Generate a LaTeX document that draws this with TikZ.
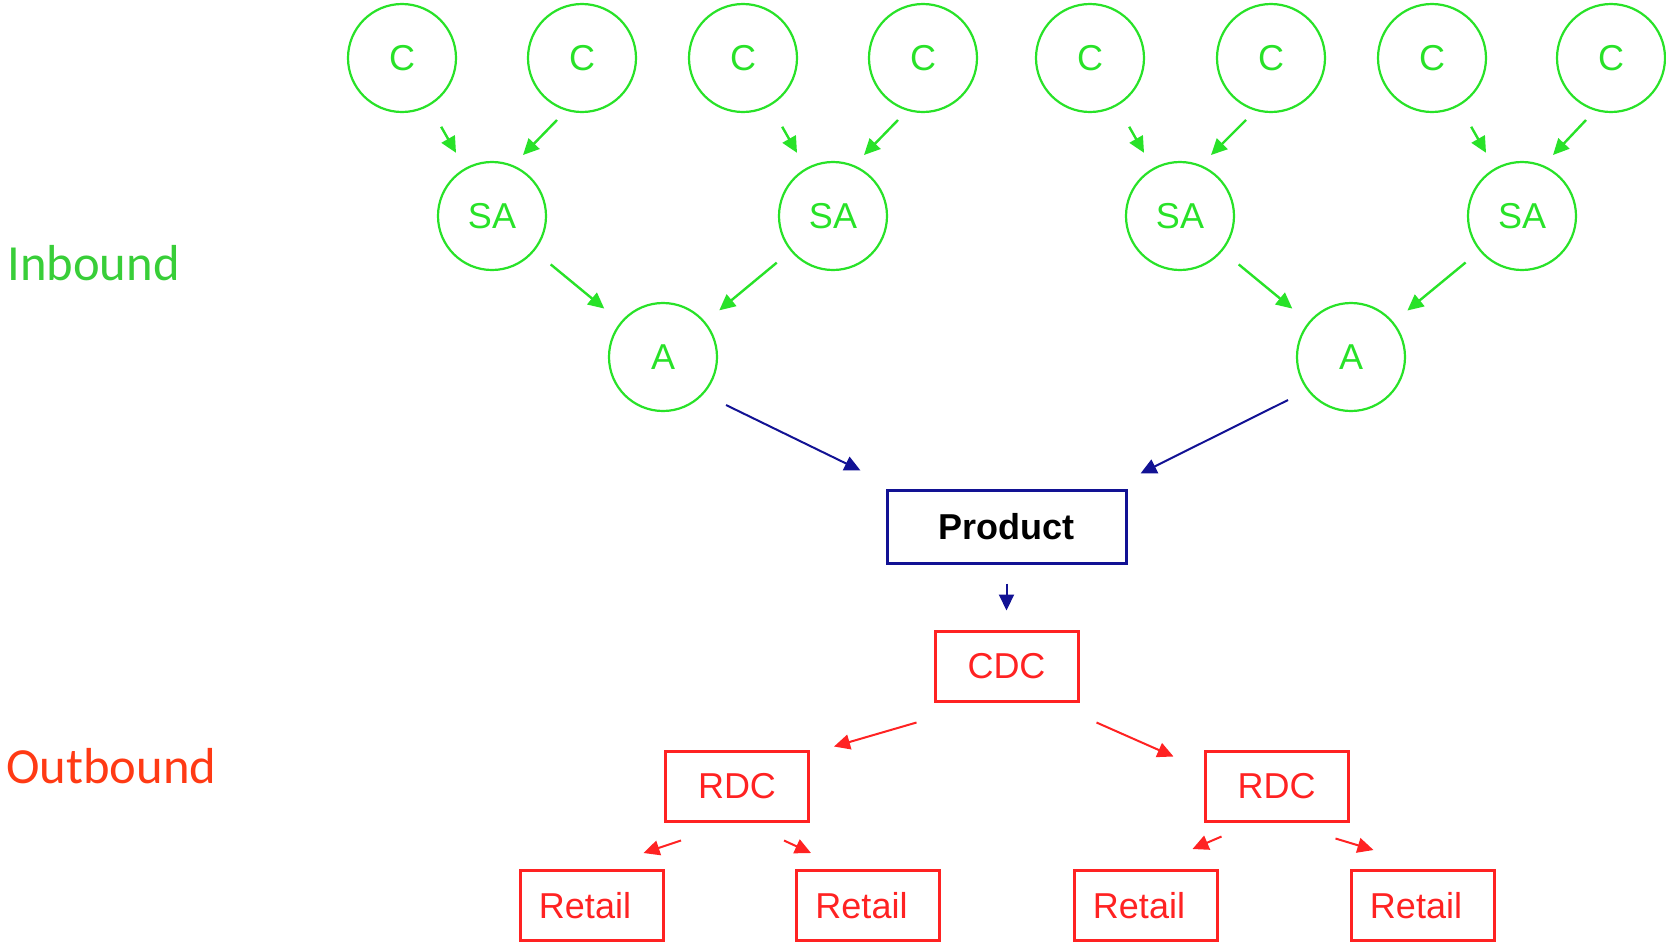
\documentclass[tikz,border=0pt]{standalone}
\usepackage{fontspec}
\setmainfont{Liberation Sans}
\newfontfamily\sidefont{Carlito}
\usepackage{tikz}
\usetikzlibrary{arrows.meta,positioning}
\definecolor{inbgreen}{RGB}{40,226,40}
\definecolor{inbtext}{RGB}{56,206,56}
\definecolor{outred}{RGB}{255,34,34}
\definecolor{outtext}{RGB}{255,58,20}
\definecolor{prodblue}{RGB}{18,18,148}
\tikzset{FLOW style/.style={>={Triangle[length=8pt,width=7.5pt]},every node/.append style={font=\fontsize{18}{21}\selectfont}}}
\newcommand{\shop}{\hspace*{-6.5pt}Retail}

\begin{document}
\begin{tikzpicture}[x=0.5pt,y=-0.5pt,FLOW style]
	\tikzstyle{comp}=[circle,draw=inbgreen,line width=1.1pt,text=inbgreen,minimum size=54pt,inner sep=0pt]
	\tikzstyle{dc}=[rectangle,draw=outred,line width=1.5pt,text=outred,minimum width=71.5pt,minimum height=35pt,inner sep=0pt]
	\tikzstyle{side}=[anchor=base west,inner sep=0pt,font=\sidefont\fontsize{25.3}{29}\selectfont]
	\tikzstyle{lfeed}=[shorten <=12pt,shorten >=8.8pt]
	\tikzstyle{lsub}=[shorten <=10.5pt,shorten >=10.5pt]
	\tikzstyle{rsub}=[shorten <=9pt,shorten >=9pt]
	
	\useasboundingbox (0,0) rectangle (1666,944);
	
	% side labels
	\node[side,text=inbtext] (inb) at (7,280) {Inbound};
	\node[side,text=outtext] (outb) at (6,783) {Outbound};
	
	% components
	\node[comp] (c1) at (402,58) {C};
	\node[comp] (c2) at (582,58) {C};
	\node[comp] (c3) at (743,58) {C};
	\node[comp] (c4) at (923,58) {C};
	\node[comp] (c5) at (1090,58) {C};
	\node[comp] (c6) at (1271,58) {C};
	\node[comp] (c7) at (1432,58) {C};
	\node[comp] (c8) at (1611,58) {C};
	
	% sub-assemblies and assemblies
	\node[comp] (sa1) at (492,216) {SA};
	\node[comp] (sa2) at (833,216) {SA};
	\node[comp] (sa3) at (1180,216) {SA};
	\node[comp] (sa4) at (1522,216) {SA};
	\node[comp] (a1) at (663,357) {A};
	\node[comp] (a2) at (1351,357) {A};
	
	\node[draw=prodblue,line width=1.5pt,minimum width=119.5pt,minimum height=36.5pt,inner sep=0pt,font=\fontsize{18}{21}\selectfont\bfseries] (prod) at (1006.5,526.5) {Product};
	
	% distribution
	\node[dc] (cdc) at (1006.5,666) {CDC};
	\node[dc] (rdc1) at (737,786) {RDC};
	\node[dc] (rdc2) at (1276.5,786) {RDC};
	\node[dc] (ret1) at (591.5,905.5) {\shop};
	\node[dc] (ret2) at (868,905.5) {\shop};
	\node[dc] (ret3) at (1145.5,905.5) {\shop};
	\node[dc] (ret4) at (1422.5,905.5) {\shop};
	
	\path[->,inbgreen,line width=1.2pt]
	(c1) edge[lfeed] (sa1)
	([shift={(-25,62)}]c2.center) edge ([shift={(31,-61)}]sa1.center)
	(c3) edge[lfeed] (sa2)
	([shift={(-25,62)}]c4.center) edge ([shift={(31,-61)}]sa2.center)
	(c5) edge[lfeed] (sa3)
	([shift={(-25,62)}]c6.center) edge ([shift={(31,-61)}]sa3.center)
	(c7) edge[lfeed] (sa4)
	([shift={(-25,62)}]c8.center) edge ([shift={(31,-61)}]sa4.center)
	
	(sa1) edge[lsub] (a1)
	(sa2) edge[rsub] (a1)
	(sa3) edge[lsub] (a2)
	(sa4) edge[rsub] (a2)
	;
	\path[->,prodblue,line width=1pt]
	([shift={(63,48)}]a1.center) edge ([shift={(-25,-18)}]prod.north west)
	([shift={(-63,43)}]a2.center) edge ([shift={(13,-15)}]prod.north east)
	(prod) edge[shorten <=9.5pt,shorten >=9.5pt] (cdc)
	;
	\path[->,outred,line width=1pt]
	([shift={(-17,20)}]cdc.south west) edge ([shift={(24,-3)}]rdc1.north east)
	([shift={(17,20)}]cdc.south east) edge ([shift={(-30,7)}]rdc2.north west)
	
	([shift={(17,18)}]rdc1.south west) edge ([shift={(-21,-16)}]ret1.north east)
	([shift={(-26,18)}]rdc1.south east) edge ([shift={(16,-16)}]ret2.north west)
	([shift={(18,14)}]rdc2.south west) edge ([shift={(-26,-20)}]ret3.north east)
	([shift={(-14,16)}]rdc2.south east) edge ([shift={(24,-19)}]ret4.north west)
	;
\end{tikzpicture}
\end{document}
